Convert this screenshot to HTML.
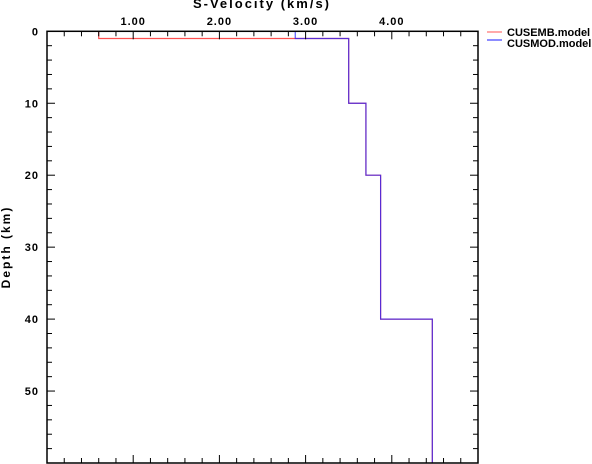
<!DOCTYPE html>
<html><head><meta charset="utf-8"><style>
body{margin:0;background:#fff}
svg{display:block}
text{font-family:"Liberation Sans",sans-serif;font-weight:bold;fill:#000}
</style></head><body>
<svg id="chart" width="592" height="464" viewBox="0 0 592 464" xmlns="http://www.w3.org/2000/svg">
<g id="marks"></g>
<g id="axes"></g>
</svg>
<script>
const xTicks=[1,2,3,4];
const xTickLabels=["1.00","2.00","3.00","4.00"];
const yTicks=[0,10,20,30,40,50];
const embVel=[0.60,0.60,3.50,3.50,3.70,3.70,3.87,3.87,4.47,4.47];
const embDepth=[0,1,1,10,10,20,20,40,40,60];
const modVel=[2.88,2.88,3.50,3.50,3.70,3.70,3.87,3.87,4.47,4.47];
const modDepth=[0,1,1,10,10,20,20,40,40,60];
const L=47,R=478,T=31.3,B=463,XMAX=5,YMAX=60;
const X=v=>L+(R-L)*v/XMAX, Y=d=>T+(B-T)*d/YMAX;
const NS="http://www.w3.org/2000/svg";
const ax=document.getElementById('axes'), mk=document.getElementById('marks');
function mkEl(t,a,p){const e=document.createElementNS(NS,t);for(const k in a)e.setAttribute(k,a[k]);p.appendChild(e);return e;}
function line(x1,y1,x2,y2,p){return mkEl('line',{x1,y1,x2,y2,stroke:'#000','stroke-width':1},p);}
const frame=mkEl('rect',{x:L,y:T,width:R-L,height:B-T,fill:'none',stroke:'#000','stroke-width':1.5},ax);


for(let i=1;i<25;i++){const v=i*0.2,x=X(v),maj=(i%5===0)?8:5;
line(x,T,x,T+maj,ax);line(x,B,x,B-maj,ax);}
for(let i=1;i<30;i++){const d=i*2,y=Y(d),maj=(i%5===0)?8:5;
line(L,y,L+maj,y,ax);line(R,y,R-maj,y,ax);}
xTicks.forEach((v,i)=>{const t=mkEl('text',{x:X(v),y:25,'text-anchor':'middle','font-size':11,'letter-spacing':1},ax);t.textContent=xTickLabels[i];

});
yTicks.forEach(d=>{const t=mkEl('text',{x:39,y:Y(d)+4,'text-anchor':'end','font-size':11,'letter-spacing':1},ax);t.textContent=d;

});
const xt=mkEl('text',{x:262,y:8,'text-anchor':'middle','font-size':13,'letter-spacing':2},ax);xt.textContent='S-Velocity (km/s)';


const yt=mkEl('text',{x:0,y:0,transform:'translate(10,247) rotate(-90)','text-anchor':'middle','font-size':12,'letter-spacing':2},ax);yt.textContent='Depth (km)';


function series(vel,dep,col,op,name){const pts=vel.map((v,i)=>X(v)+','+Y(dep[i])).join(' ');
const p=mkEl('polyline',{points:pts,fill:'none',stroke:col,'stroke-width':1.2,'stroke-opacity':op},mk);

}
series(embVel,embDepth,'#ff5050',1,'cusemb-line');
series(modVel,modDepth,'#2020ff',0.75,'cusmod-line');
[['CUSEMB.model','#ff7070',32,36],['CUSMOD.model','#4040ff',40,47]].forEach(([n,c,ly,ty])=>{
const g=mkEl('g',{},ax);


mkEl('line',{x1:487,y1:ly,x2:502,y2:ly,stroke:c,'stroke-width':1.2},g);
const t=mkEl('text',{x:507,y:ty,'font-size':11},g);t.textContent=n;});
</script>
</body></html>
